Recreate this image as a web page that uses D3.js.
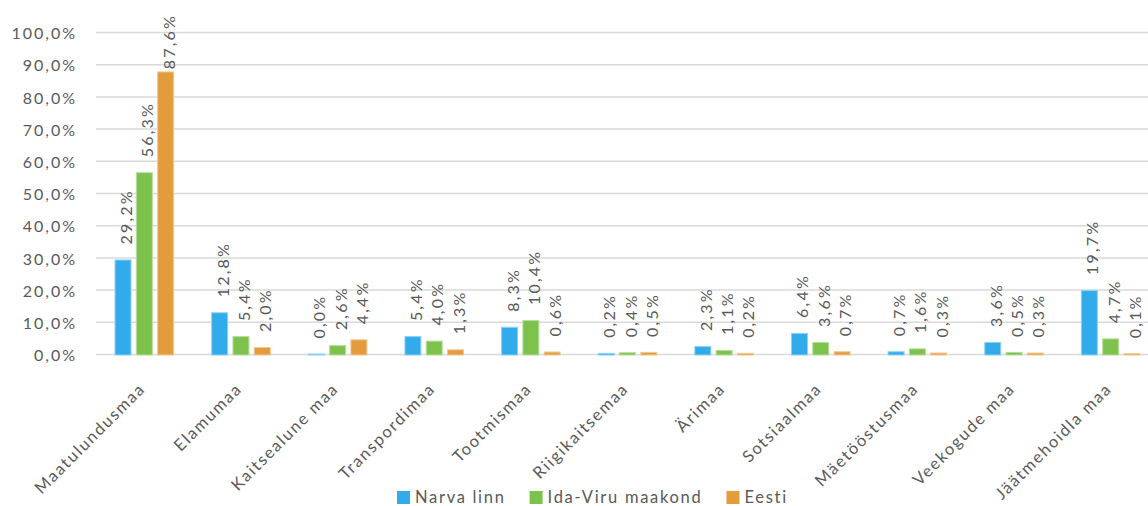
<!DOCTYPE html>
<html><head><meta charset="utf-8">
<script src="https://cdn.jsdelivr.net/npm/d3@7"></script>
<style>
html,body{margin:0;padding:0;background:#fff;}
svg{display:block;font-family:Lato, "Open Sans", sans-serif;}
</style></head>
<body><svg id="c" width="1148" height="506"></svg>
<script>
const categories = ["Maatulundusmaa","Elamumaa","Kaitsealune maa","Transpordimaa","Tootmismaa","Riigikaitsemaa","Ärimaa","Sotsiaalmaa","Mäetööstusmaa","Veekogude maa","Jäätmehoidla maa"];
const seriesNames = ["Narva linn","Ida-Viru maakond","Eesti"];
const narva = [29.2,12.8,0.0,5.4,8.3,0.2,2.3,6.4,0.7,3.6,19.7];
const idaViru = [56.3,5.4,2.6,4.0,10.4,0.4,1.1,3.6,1.6,0.5,4.7];
const eesti = [87.6,2.0,4.4,1.3,0.6,0.5,0.2,0.7,0.3,0.3,0.1];
const yTicks = [0,10,20,30,40,50,60,70,80,90,100];
const colors = ["#31ABE9","#7DC24D","#E39B3C"];

const values = [narva, idaViru, eesti];
const svg = d3.select("#c");
const textColor = "#595959";
const fmt = v => v.toFixed(1).replace(".", ",") + "%";

const x = d3.scaleBand().domain(categories).range([96, 1159]).padding(0);
const xs = d3.scaleBand().domain(seriesNames).range([-29.3, 29.3]).paddingInner(0.25);
const y = d3.scaleLinear().domain([0, 100]).range([354.5, 32.5]);

// gridlines
svg.append("g").selectAll("line").data(yTicks).join("line")
  .attr("x1", 96).attr("x2", 1148)
  .attr("y1", d => y(d)).attr("y2", d => y(d))
  .attr("stroke", "#D9D9D9").attr("stroke-width", 1.5);

// y axis labels
const yAxis = d3.axisLeft(y).tickValues(yTicks).tickFormat(fmt).tickSize(0).tickPadding(0);
const ya = svg.append("g").attr("transform", "translate(77,1)").call(yAxis);
ya.select(".domain").remove();
ya.selectAll("text").attr("fill", textColor).style("font-size", "16px").style("letter-spacing", "2px")
  .style("font-family", "Lato, sans-serif");

// bars
const groups = svg.append("g").selectAll("g").data(seriesNames).join("g");
groups.each(function(s, si) {
  const g = d3.select(this);
  const data = categories.map((c, i) => ({c, v: values[si][i]}));
  g.selectAll("rect").data(data).join("rect")
    .attr("x", d => x(d.c) + x.bandwidth()/2 + xs(s))
    .attr("width", xs.bandwidth())
    .attr("y", d => y(d.v) - 0.5)
    .attr("height", d => y(0) - y(d.v) + 1)
    .attr("fill", colors[si])
    .attr("stroke", d3.interpolateRgb(colors[si], "#fff")(0.45))
    .attr("stroke-width", 1);
  g.selectAll("text").data(data).join("text")
    .attr("fill", textColor)
    .style("font-size", "16px").style("letter-spacing", "2.2px")
    .attr("text-anchor", "start").attr("dy", "0.35em")
    .text(d => fmt(d.v))
    .each(function(d) {
      const len = this.getComputedTextLength();
      let yy = y(d.v) - 16;
      if (yy - len < 14) yy = 14 + len;
      const xx = x(d.c) + x.bandwidth()/2 + xs(s) + xs.bandwidth()/2 + 3.4;
      d3.select(this).attr("transform", `translate(${xx},${yy}) rotate(-90)`);
    });
});

// category labels
svg.append("g").selectAll("text").data(categories).join("text")
  .attr("transform", d => `translate(${x(d) + x.bandwidth()/2 + 2},390) rotate(-45)`)
  .attr("text-anchor", "end")
  .attr("fill", textColor).style("font-size", "16.5px").style("letter-spacing", "1.7px")
  .text(d => d);

// legend
const leg = svg.append("g");
let lx = 397;
seriesNames.forEach((s, i) => {
  leg.append("rect").attr("x", lx).attr("y", 491).attr("width", 13).attr("height", 13).attr("fill", colors[i]);
  const t = leg.append("text").attr("x", lx + 18).attr("y", 503)
    .attr("fill", textColor).style("font-size", "16.5px").style("letter-spacing", "1.7px").text(s);
  lx = lx + 18 + t.node().getComputedTextLength() + 24;
});
</script></body></html>
